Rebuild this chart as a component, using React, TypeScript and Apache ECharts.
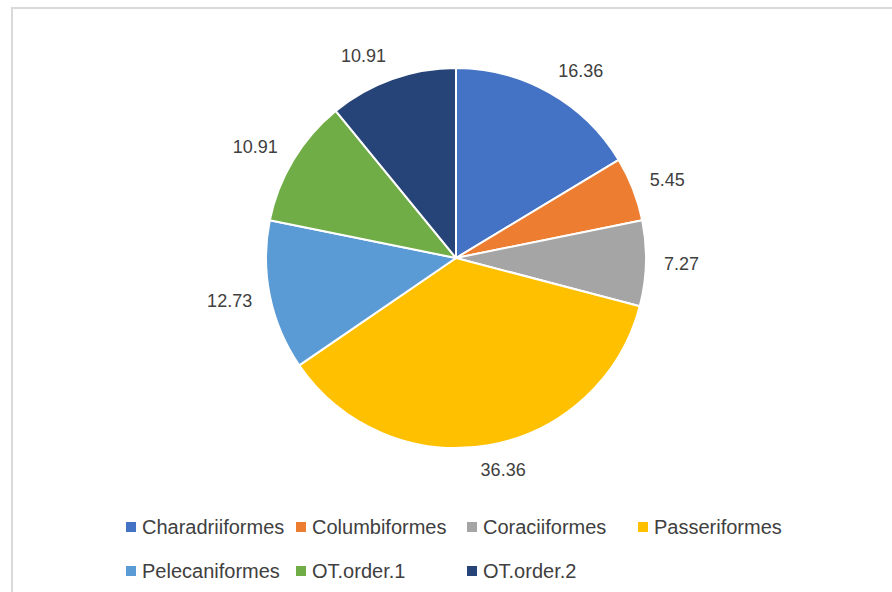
import React, { useEffect, useRef } from "react";
import * as echarts from "echarts";

const categories = [
  "Charadriiformes",
  "Columbiformes",
  "Coraciiformes",
  "Passeriformes",
  "Pelecaniformes",
  "OT.order.1",
  "OT.order.2",
];
const values = [16.36, 5.45, 7.27, 36.36, 12.73, 10.91, 10.91];
const colors = ["#4472C4", "#ED7D31", "#A5A5A5", "#FFC000", "#5B9BD5", "#70AD47", "#264478"];

const CENTER: [number, number] = [456, 258];
const RADIUS = 190;
const LABEL_GAP = 18;

export default function App() {
  const ref = useRef<HTMLDivElement>(null);
  useEffect(() => {
    if (!ref.current) return;
    const chart = echarts.init(ref.current, undefined, { renderer: "svg" });
    const total = values.reduce((a, b) => a + b, 0);
    const mids: number[] = [];
    let acc = 0;
    values.forEach((v) => {
      mids.push(((acc + v / 2) / total) * Math.PI * 2);
      acc += v;
    });
    const colStarts = [121, 291, 462, 633];
    const legends = colStarts.map((left, c) => ({
      orient: "vertical",
      left,
      top: 512,
      itemWidth: 10,
      itemHeight: 10,
      itemGap: 24,
      icon: "rect",
      data: categories.filter((_, i) => i % 4 === c),
      itemStyle: { borderWidth: 0 },
      textStyle: {
        fontFamily: "Liberation Sans",
        fontSize: 20,
        lineHeight: 20,
        color: "#404040",
        padding: [0, 0, 0, 1],
      },
    }));
    chart.setOption({
      animation: false,
      color: colors,
      graphic: [
        {
          type: "rect",
          shape: { x: 12, y: 8, width: 900, height: 600 },
          style: { fill: "none", stroke: "#D9D9D9", lineWidth: 2 },
          silent: true,
        },
      ],
      legend: legends,
      series: [
        {
          type: "pie",
          center: CENTER,
          radius: RADIUS,
          startAngle: 90,
          clockwise: true,
          data: categories.map((name, i) => ({ name, value: values[i] })),
          itemStyle: { borderColor: "#ffffff", borderWidth: 2 },
          label: {
            show: true,
            position: "outside",
            formatter: (p: any) => p.value.toFixed(2),
            fontFamily: "Liberation Sans",
            fontSize: 18,
            color: "#404040",
          },
          labelLine: { show: false },
          labelLayout: (p: any) => {
            const a = mids[p.dataIndex];
            const ux = Math.sin(a);
            const uy = -Math.cos(a);
            const w = p.labelRect.width;
            const h = 14;
            const ax = CENTER[0] + (RADIUS + LABEL_GAP) * ux;
            const ay = CENTER[1] + (RADIUS + LABEL_GAP) * uy;
            const kx = Math.max(-1, Math.min(1, ux * 3));
            return {
              x: ax + (w / 2) * kx,
              y: ay + (h / 2) * uy,
              align: "center",
              verticalAlign: "middle",
            };
          },
        },
      ],
    });
    return () => chart.dispose();
  }, []);
  return (
    <div
      ref={ref}
      style={{ position: "fixed", left: 0, top: 0, width: 892, height: 592, background: "#fff" }}
    />
  );
}
